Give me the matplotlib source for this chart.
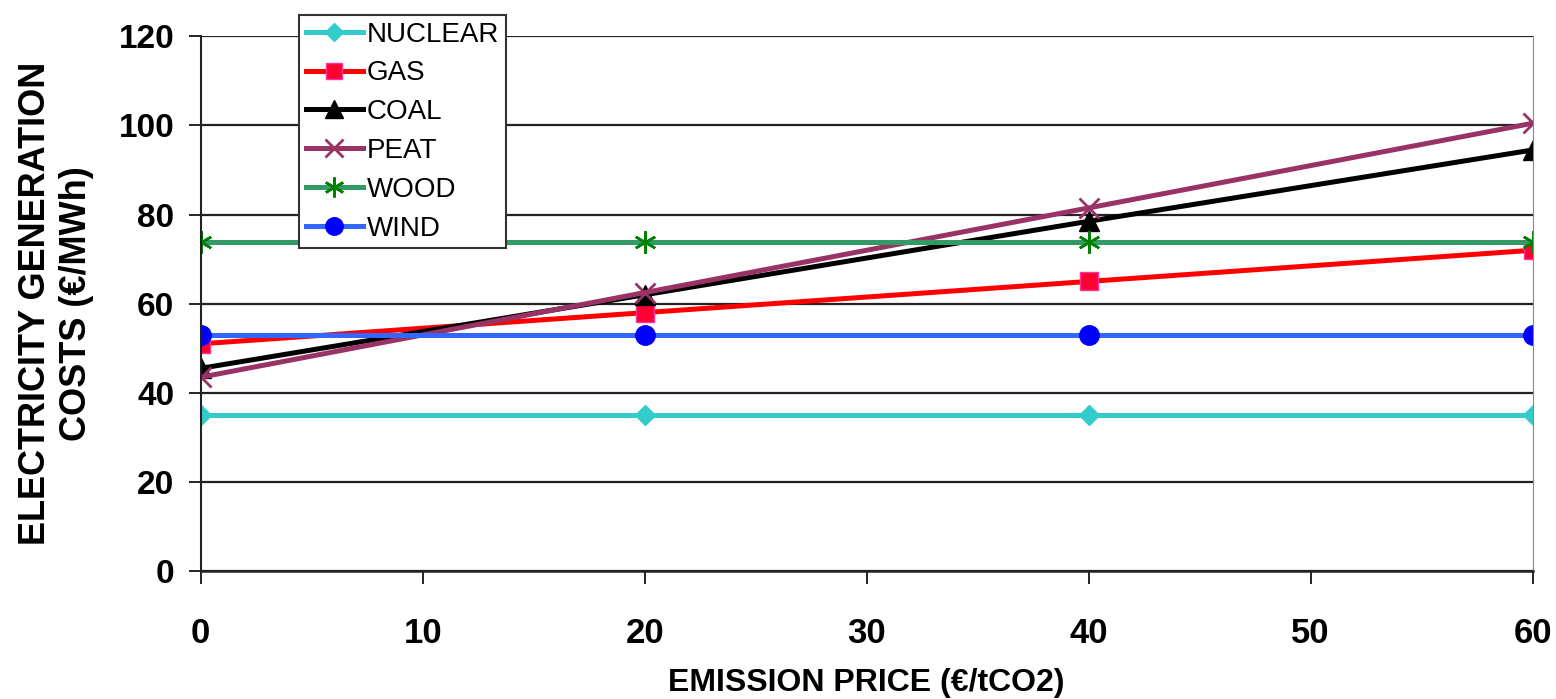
import matplotlib.pyplot as plt

plt.rcParams['font.family'] = ['Liberation Sans', 'DejaVu Sans']

price = [0, 20, 40, 60]
nuclear = [35, 35, 35, 35]
gas = [51, 58, 65, 72]
coal = [45.5, 62, 78.5, 94.5]
peat = [43.5, 62.5, 81.5, 100.5]
wood = [73.8, 73.8, 73.8, 73.8]
wind = [53, 53, 53, 53]

fig = plt.figure(figsize=(15.56, 6.99), dpi=100)
ax = fig.add_axes([0.129, 0.183, 0.856, 0.765])

lw = 3.6
ax.plot(price, nuclear, color='#33CCCC', lw=lw, marker='D', ms=10, mfc='#33CCCC', mec='#33CCCC', label='NUCLEAR')
ax.plot(price, gas, color='#FF0000', lw=lw, marker='s', ms=13, mfc='#FF0033', mec='#FF3399', label='GAS')
ax.plot(price, coal, color='black', lw=lw, marker='^', ms=15, mfc='black', mec='black', label='COAL')
ax.plot(price, peat, color='#993366', lw=lw, marker='x', ms=15, mew=2, mec='#993366', label='PEAT')
ax.plot(price, wood, color='#339966', lw=lw, marker=(6, 2, 0), ms=16, mew=1.8, mec='#008000', label='WOOD')
ax.plot(price, wind, color='#3366FF', lw=lw, marker='o', ms=14, mfc='#0000FF', mec='#0000FF', label='WIND')

ax.set_xlim(0, 60)
ax.set_ylim(0, 120)
ax.set_xticks(range(0, 61, 10))
ax.set_yticks(range(0, 121, 20))
ax.yaxis.grid(True, color='#222222', lw=1.6)
ax.set_axisbelow(True)

ax.spines['top'].set_visible(False)
ax.spines['right'].set_color('#888888')
ax.spines['left'].set_color('#222222')
ax.spines['left'].set_linewidth(1.5)
ax.spines['bottom'].set_color('#222222')
ax.spines['bottom'].set_linewidth(1.8)

ax.tick_params(axis='y', direction='out', length=9, width=1.2, labelsize=24, pad=10)
ax.tick_params(axis='x', direction='out', length=9, width=1.2, labelsize=25, pad=24)
for t in ax.get_xticklabels() + ax.get_yticklabels():
    t.set_fontweight('bold')

ax.set_xlabel('EMISSION PRICE (€/tCO2)', fontsize=23, fontweight='bold', labelpad=13)
ax.set_ylabel('ELECTRICITY GENERATION\nCOSTS (€/MWh)', fontsize=26, fontweight='bold', labelpad=18, linespacing=1.22)

leg = fig.legend(loc='upper left', bbox_to_anchor=(0.192, 0.979), fontsize=20,
                 frameon=True, fancybox=False, edgecolor='#333333', framealpha=1,
                 handlelength=2.05, handletextpad=0.15, labelspacing=0.46, borderpad=0.25,
                 borderaxespad=0, markerscale=0.9)
leg.get_frame().set_linewidth(1.5)

plt.savefig('out.png', dpi=100)
